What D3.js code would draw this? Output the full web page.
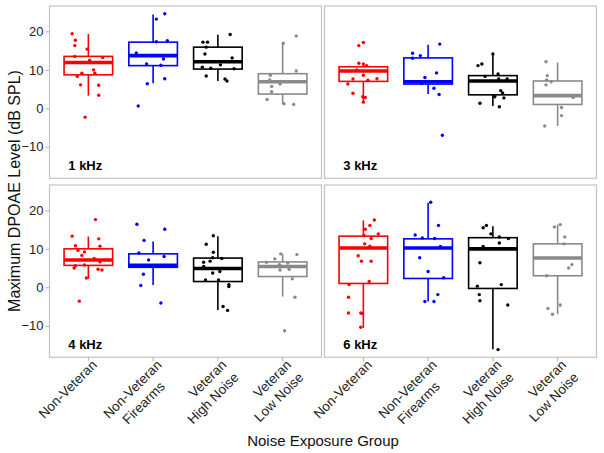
<!DOCTYPE html>
<html><head><meta charset="utf-8">
<script src="https://cdn.jsdelivr.net/npm/d3@7/dist/d3.min.js"></script>
<style>body{margin:0;background:#fff}svg{display:block}</style>
</head><body>
<svg id="c" width="604" height="453"></svg>
<script>
// ---------- DATA ----------
const groups = ["Non-Veteran", "Non-Veteran\nFirearms", "Veteran\nHigh Noise", "Veteran\nLow Noise"];
const frequencies = ["1 kHz", "3 kHz", "4 kHz", "6 kHz"];
const yTicks = [-10, 0, 10, 20];
const yLabel = "Maximum DPOAE Level (dB SPL)";
const xLabel = "Noise Exposure Group";

// box stats per group: [lower whisker, Q1, median, Q3, upper whisker]
const box1k = [[3.3, 8.7, 11.9, 13.5, 19.3], [6.5, 11.1, 13.7, 17.2, 24.4], [7.1, 10.2, 12.1, 15.9, 19.1], [1.1, 3.7, 6.9, 9.0, 16.9]];
const box3k = [[1.5, 7.0, 9.7, 10.8, 11.7], [3.7, 6.3, 6.9, 13.1, 16.5], [0.6, 3.5, 7.1, 8.5, 14.1], [-4.6, 1.0, 3.3, 7.1, 11.9]];
const box4k = [[2.2, 5.7, 7.1, 10.0, 13.2], [0.6, 5.2, 5.7, 8.7, 11.9], [-5.9, 1.5, 4.9, 7.6, 13.3], [-2.4, 2.8, 5.4, 6.6, 8.7]];
const box6k = [[-10.6, 1.0, 10.2, 13.3, 17.4], [-3.7, 2.3, 10.2, 12.6, 22.0], [-16.1, -0.3, 10.0, 12.9, 15.9], [-7.0, 3.0, 7.6, 11.3, 16.3]];

// individual subjects per group: [jitter (fraction of category step), value]
const pts1k = [
  [[-0.25,19.4],[-0.20,17.7],[-0.21,16.3],[-0.02,15.4],[-0.21,13.5],[0.22,13.2],[0.02,12.5],[0.08,10.0],[-0.10,9.1],[0.10,9.1],[-0.17,8.3],[-0.12,6.1],[0.16,6.0],[0.16,3.4],[-0.05,-2.3]],
  [[0.18,24.6],[0.05,23.2],[0.05,17.3],[0.22,17.6],[-0.26,14.4],[0.16,12.8],[-0.10,11.5],[0.12,11.2],[0.18,7.7],[-0.09,6.4],[-0.23,0.6]],
  [[-0.23,17.2],[-0.16,17.2],[0.19,19.2],[-0.18,15.9],[-0.20,14.1],[0.22,13.1],[-0.24,10.7],[-0.11,10.4],[0.04,11.3],[0.25,10.3],[-0.18,8.4],[0.11,7.6],[0.14,7.1]],
  [[0.21,18.8],[0.01,16.9],[0.21,9.7],[-0.19,8.6],[-0.20,7.4],[-0.04,6.3],[-0.17,5.7],[-0.17,4.3],[-0.24,2.3],[0.02,1.2],[0.17,1.0]]
];
const pts3k = [
  [[-0.07,16.3],[0.0,17.1],[-0.07,11.7],[0.0,11.5],[0.05,11.1],[-0.10,10.0],[0.0,8.6],[-0.16,7.6],[0.21,7.7],[0.07,7.3],[-0.24,6.3],[-0.16,3.9],[-0.01,3.0],[0.03,2.8],[0.0,1.6]],
  [[0.18,16.7],[-0.24,14.3],[-0.12,13.7],[-0.24,13.0],[0.13,9.2],[-0.05,8.0],[-0.10,6.5],[0.09,5.2],[0.17,3.6],[0.22,-7.0]],
  [[0.0,14.1],[-0.23,11.1],[-0.17,11.5],[-0.12,8.3],[0.08,8.9],[0.09,7.6],[0.22,7.6],[0.12,4.6],[0.15,4.0],[0.17,2.7],[0.03,3.0],[-0.20,1.3],[0.10,0.4]],
  [[-0.18,12.1],[-0.16,8.5],[-0.17,7.4],[-0.10,6.9],[-0.18,6.1],[0.24,2.8],[0.06,0.2],[0.06,-1.9],[-0.20,-4.6]]
];
const pts4k = [
  [[0.11,17.6],[-0.25,13.3],[0.16,12.6],[0.18,10.7],[-0.20,10.8],[-0.16,9.6],[-0.06,9.2],[-0.10,8.3],[0.09,7.5],[0.18,6.6],[-0.20,5.6],[-0.06,5.8],[-0.22,5.0],[0.15,4.7],[0.21,4.5],[-0.03,2.4],[-0.14,-3.6]],
  [[-0.25,16.4],[0.18,15.1],[-0.14,12.2],[-0.22,8.9],[0.17,8.0],[-0.07,7.1],[-0.15,3.4],[-0.19,0.5],[0.12,-4.1]],
  [[-0.07,13.4],[-0.18,11.2],[-0.07,9.1],[-0.08,7.7],[0.06,7.5],[-0.22,6.5],[-0.12,6.8],[-0.22,5.4],[-0.08,3.7],[0.03,4.1],[-0.19,1.9],[0.01,1.9],[0.17,0.7],[0.17,0.2],[0.08,-5.0],[0.15,-6.0]],
  [[-0.03,8.7],[0.22,8.5],[-0.12,7.4],[-0.25,6.5],[0.08,6.3],[-0.05,5.9],[-0.04,4.5],[0.10,4.7],[0.15,2.2],[0.19,-2.6],[0.03,-11.3]]
];
const pts6k = [
  [[0.17,17.5],[0.10,16.1],[0.03,15.1],[0.23,13.9],[0.01,13.5],[0.12,12.7],[0.02,11.3],[0.10,10.7],[-0.08,8.2],[-0.03,6.8],[0.12,6.8],[0.09,1.5],[-0.22,0.7],[-0.23,-2.6],[-0.23,-6.7],[-0.04,-6.7],[-0.02,-6.8],[-0.04,-10.4]],
  [[0.04,22.1],[0.16,16.1],[-0.20,13.6],[-0.09,12.8],[0.10,12.7],[0.19,10.6],[-0.13,7.7],[0.0,4.1],[0.24,2.5],[0.15,-1.9],[-0.05,-3.7],[0.09,-3.7]],
  [[-0.10,16.1],[-0.15,15.5],[-0.03,13.9],[0.10,13.1],[0.24,12.7],[0.10,11.5],[-0.15,10.6],[-0.20,6.4],[-0.24,0.3],[0.13,0.7],[-0.21,-1.9],[-0.20,-3.5],[0.23,-4.6],[0.08,-16.2]],
  [[-0.05,15.7],[0.04,16.3],[0.11,13.1],[0.10,11.3],[0.22,5.9],[0.17,5.0],[-0.17,3.0],[-0.15,-5.5],[0.04,-4.6],[-0.08,-7.0]]
];

const boxes = [box1k, box3k, box4k, box6k];
const points = [pts1k, pts3k, pts4k, pts6k];

// ---------- STYLE / LAYOUT ----------
const colors = ["#ff0000", "#0000ff", "#000000", "#8a8a8a"];
const secondLineShift = [0, -13, 0, 0]; // visual shift of 2nd label line along text
const font = "'Liberation Sans', Arial, sans-serif";
const colX = [49.5, 324.5];
const rowY = [6, 185];
const pw = 272, ph = 172.3;

const svg = d3.select("#c");
const x = d3.scaleBand().domain(groups).range([0, pw]).paddingInner(0).paddingOuter(0.1);
const y = d3.scaleLinear().domain([-18.2, 26.6]).range([ph, 0]);
const step = x.step();
const bw = step * 0.75;

frequencies.forEach((f, p) => {
  const col = p % 2, row = Math.floor(p / 2);
  const g = svg.append("g").attr("transform", `translate(${colX[col]},${rowY[row]})`);

  g.append("rect").attr("x", 0).attr("y", 0).attr("width", pw).attr("height", ph)
    .attr("fill", "#fff").attr("stroke", "#c4c4c4").attr("stroke-width", 1.2);

  groups.forEach((grp, i) => {
    const b = boxes[p][i];
    const cx = x(grp) + step / 2;
    const c = colors[i];
    const bg = g.append("g");
    bg.append("line").attr("x1", cx).attr("x2", cx).attr("y1", y(b[3])).attr("y2", y(b[4]))
      .attr("stroke", c).attr("stroke-width", 1.6);
    bg.append("line").attr("x1", cx).attr("x2", cx).attr("y1", y(b[1])).attr("y2", y(b[0]))
      .attr("stroke", c).attr("stroke-width", 1.6);
    bg.append("rect").attr("x", cx - bw / 2).attr("width", bw)
      .attr("y", y(b[3])).attr("height", y(b[1]) - y(b[3]))
      .attr("fill", "none").attr("stroke", c).attr("stroke-width", 1.6);
    bg.append("line").attr("x1", cx - bw / 2).attr("x2", cx + bw / 2)
      .attr("y1", y(b[2])).attr("y2", y(b[2]))
      .attr("stroke", c).attr("stroke-width", 3.6);
    bg.selectAll("circle").data(points[p][i]).enter().append("circle")
      .attr("cx", d => cx + d[0] * step).attr("cy", d => y(d[1]))
      .attr("r", 1.7).attr("fill", c);
  });

  g.append("text").attr("x", 18.8).attr("y", ph - 8.6)
    .attr("font-family", font).attr("font-size", 13).attr("font-weight", "bold")
    .attr("fill", "#000").text(f);

  if (col === 0) {
    const ax = g.append("g").call(d3.axisLeft(y).tickValues(yTicks).tickSize(4).tickPadding(2));
    ax.select(".domain").remove();
    ax.selectAll(".tick line").attr("stroke", "#b0b0b0").attr("stroke-width", 1);
    ax.selectAll(".tick text").attr("font-family", font).attr("font-size", 13).attr("fill", "#222");
  }
  if (row === 1) {
    const ax = g.append("g").attr("transform", `translate(0,${ph})`)
      .call(d3.axisBottom(x).tickSize(4).tickFormat(""));
    ax.select(".domain").remove();
    ax.selectAll(".tick line").attr("stroke", "#b0b0b0").attr("stroke-width", 1);
    groups.forEach((grp, i) => {
      const cx = x(grp) + step / 2;
      const t = g.append("text")
        .attr("transform", `translate(${cx + 2.5},${ph + 1.5}) rotate(-45)`)
        .attr("font-family", font).attr("font-size", 13.5).attr("fill", "#222")
        .attr("text-anchor", "end");
      grp.split("\n").forEach((ln, k) => {
        t.append("tspan").attr("x", k === 0 ? 0 : secondLineShift[i])
          .attr("dy", k === 0 ? "0.72em" : "1.3em").text(ln);
      });
    });
  }
});

svg.append("text").attr("transform", `translate(19.5,191) rotate(-90)`)
  .attr("text-anchor", "middle").attr("font-family", font).attr("font-size", 16)
  .attr("fill", "#111").text(yLabel);

svg.append("text").attr("x", 323).attr("y", 446)
  .attr("text-anchor", "middle").attr("font-family", font).attr("font-size", 15)
  .attr("fill", "#111").text(xLabel);
</script>
</body></html>
